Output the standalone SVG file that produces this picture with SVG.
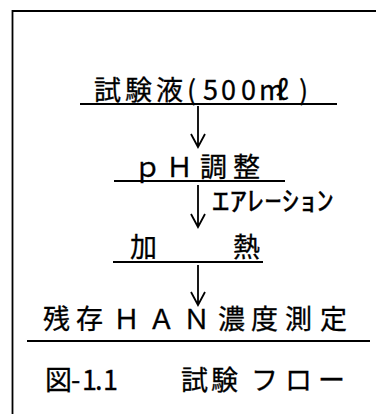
<svg xmlns="http://www.w3.org/2000/svg" width="376" height="414" viewBox="0 0 376 414">
<style>
.t{font-family:"Noto Sans CJK JP","Liberation Sans",sans-serif;font-size:27px;fill:#000;stroke:#000;stroke-width:0.3}
.s{fill:none;stroke:#000;stroke-width:1.8}
</style>
<rect width="376" height="414" fill="#fff"/>
<g id="frame">
<path class="s" d="M12.5,10 V414 M12,11 H376"/>
</g>
<g id="connectors">
<path class="s" d="M198,106 V147 M191,134 L198,147 L205,134"/>
<path class="s" d="M198,185 V227 M191,214 L198,227 L205,214"/>
<path class="s" d="M198,265 V305 M191,292 L198,305 L205,292"/>
<text class="t" x="212" y="211" font-size="25" textLength="122" lengthAdjust="spacingAndGlyphs">ｴｱﾚｰｼｮﾝ</text>
</g>
<g id="node1">
<text class="t" x="94 125 156 187 203 221 241 259 276 299" y="100">試験液(500mℓ)</text>
<path class="s" d="M80,104 H337"/>
</g>
<g id="node2">
<text class="t" x="134 166 200 233" y="177">ｐＨ調整</text>
<path class="s" d="M114,181 H285"/>
</g>
<g id="node3">
<text class="t" x="130 233" y="257">加熱</text>
<path class="s" d="M113,262 H263"/>
</g>
<g id="node4">
<text class="t" x="43 76 113 148 183 218 251 285 320" y="329">残存ＨＡＮ濃度測定</text>
<path class="s" d="M27,341 H370"/>
</g>
<g id="caption">
<text class="t" x="45 71 82 95 103 140 181 211 251 285 318" y="390">図-1.1　試験フロー</text>
</g>
</svg>
